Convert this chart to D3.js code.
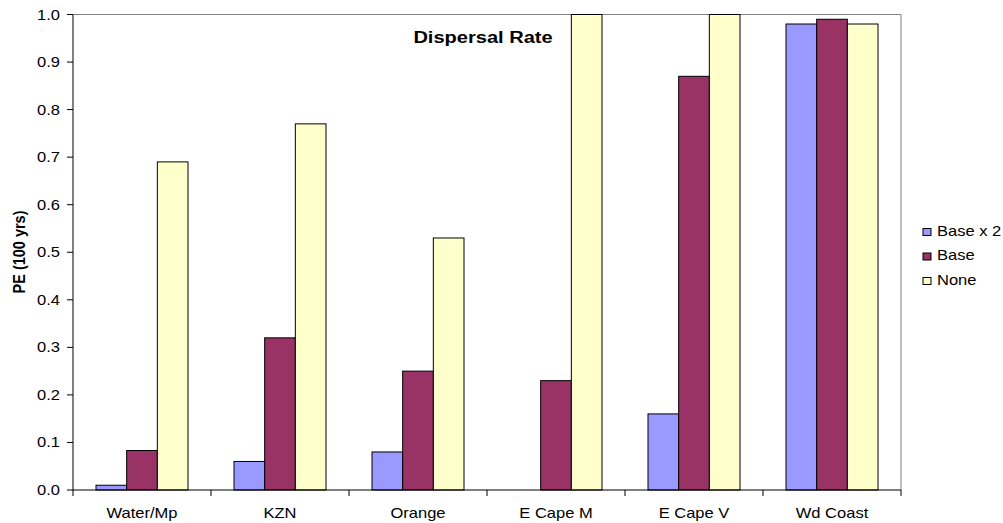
<!DOCTYPE html>
<html>
<head>
<meta charset="utf-8">
<script src="https://cdn.jsdelivr.net/npm/d3@7"></script>
<style>
  html, body { margin: 0; padding: 0; background: #fff; }
  svg { display: block; font-family: "Liberation Sans", Arial, sans-serif; }
</style>
</head>
<body>
<svg id="chart" width="1003" height="523"></svg>
<script>
// Probability of extinction over 100 years, by region and dispersal scenario
const categories = ["Water/Mp", "KZN", "Orange", "E Cape M", "E Cape V", "Wd Coast"];
const seriesNames = ["Base x 2", "Base", "None"];
const baseX2 = [0.01, 0.06, 0.08, 0.0, 0.16, 0.98];
const base   = [0.083, 0.32, 0.25, 0.23, 0.87, 0.99];
const none   = [0.69, 0.77, 0.53, 1.0, 1.0, 0.98];
const yTicks = [0, 0.1, 0.2, 0.3, 0.4, 0.5, 0.6, 0.7, 0.8, 0.9, 1.0];
const colors = ["#9999FF", "#993366", "#FFFFCC"];

const seriesValues = [baseX2, base, none];

// text in this chart is drawn slightly wide
const SX = 1.18;

const svg = d3.select("#chart");
const m = { left: 73, right: 901, top: 14.5, bottom: 490 };

const x0 = d3.scaleBand().domain(categories).range([m.left, m.right]).paddingInner(0).paddingOuter(0);
const x1 = d3.scaleBand().domain(seriesNames)
  .range([0, x0.bandwidth()])
  .paddingInner(0)
  .paddingOuter(0.75);
const y = d3.scaleLinear().domain([0, 1]).range([m.bottom, m.top]);

// plot frame (top and right edges)
svg.append("line").attr("x1", m.left).attr("x2", m.right).attr("y1", m.top).attr("y2", m.top)
  .attr("stroke", "#808080").attr("stroke-width", 1);
svg.append("line").attr("x1", m.right).attr("x2", m.right).attr("y1", m.top).attr("y2", m.bottom)
  .attr("stroke", "#808080").attr("stroke-width", 1);

// bars
const groups = svg.append("g").selectAll("g")
  .data(categories)
  .join("g")
  .attr("transform", d => `translate(${x0(d)},0)`);

groups.selectAll("rect")
  .data((c, i) => seriesNames.map((s, j) => ({ s, j, v: seriesValues[j][i] })))
  .join("rect")
  .filter(d => d.v > 0)
  .attr("x", d => x1(d.s))
  .attr("width", x1.bandwidth())
  .attr("y", d => y(d.v))
  .attr("height", d => y(0) - y(d.v))
  .attr("fill", d => colors[d.j])
  .attr("stroke", "#000")
  .attr("stroke-width", 1);

// y axis
const gy = svg.append("g").attr("transform", `translate(${m.left},0)`);
gy.append("line").attr("x1", 0).attr("x2", 0).attr("y1", m.top).attr("y2", m.bottom).attr("stroke", "#000");
gy.selectAll(".yt").data(yTicks).join("line")
  .attr("x1", -6).attr("x2", 0).attr("y1", d => y(d)).attr("y2", d => y(d)).attr("stroke", "#000");
gy.selectAll(".yl").data(yTicks).join("text")
  .attr("transform", d => `translate(-13,${y(d)}) scale(${SX},1)`)
  .attr("text-anchor", "end")
  .attr("dy", "0.36em")
  .attr("font-size", 14)
  .text(d => d3.format(".1f")(d));

// x axis with ticks at category boundaries
const gx = svg.append("g").attr("transform", `translate(0,${m.bottom})`);
gx.append("line").attr("x1", m.left).attr("x2", m.right).attr("stroke", "#000");
const boundaries = categories.map(c => x0(c)).concat([m.right]);
gx.selectAll(".bt").data(boundaries).join("line")
  .attr("x1", d => d).attr("x2", d => d).attr("y1", 0).attr("y2", 6).attr("stroke", "#000");
gx.selectAll(".lbl").data(categories).join("text")
  .attr("transform", d => `translate(${x0(d) + x0.bandwidth() / 2},27.5) scale(${SX},1)`)
  .attr("text-anchor", "middle")
  .attr("font-size", 14)
  .text(d => d);

// title
svg.append("text")
  .attr("transform", `translate(483,43) scale(${SX},1)`)
  .attr("text-anchor", "middle")
  .attr("font-size", 17).attr("font-weight", "bold").text("Dispersal Rate");

// y axis title
svg.append("text")
  .attr("transform", `translate(25,252) rotate(-90) scale(1,${SX})`)
  .attr("text-anchor", "middle")
  .attr("font-size", 14.5).attr("font-weight", "bold").text("PE (100 yrs)");

// legend
const legend = svg.append("g").attr("transform", "translate(923,232)");
const li = legend.selectAll("g").data(seriesNames).join("g")
  .attr("transform", (d, i) => `translate(0,${i * 24.5})`);
li.append("rect").attr("x", 0).attr("y", -3.5).attr("width", 8).attr("height", 7)
  .attr("fill", (d, i) => colors[i]).attr("stroke", "#000").attr("stroke-width", 1);
li.append("text")
  .attr("transform", `translate(14,3.5) scale(${SX},1)`)
  .attr("font-size", 14).text(d => d);
</script>
</body>
</html>
